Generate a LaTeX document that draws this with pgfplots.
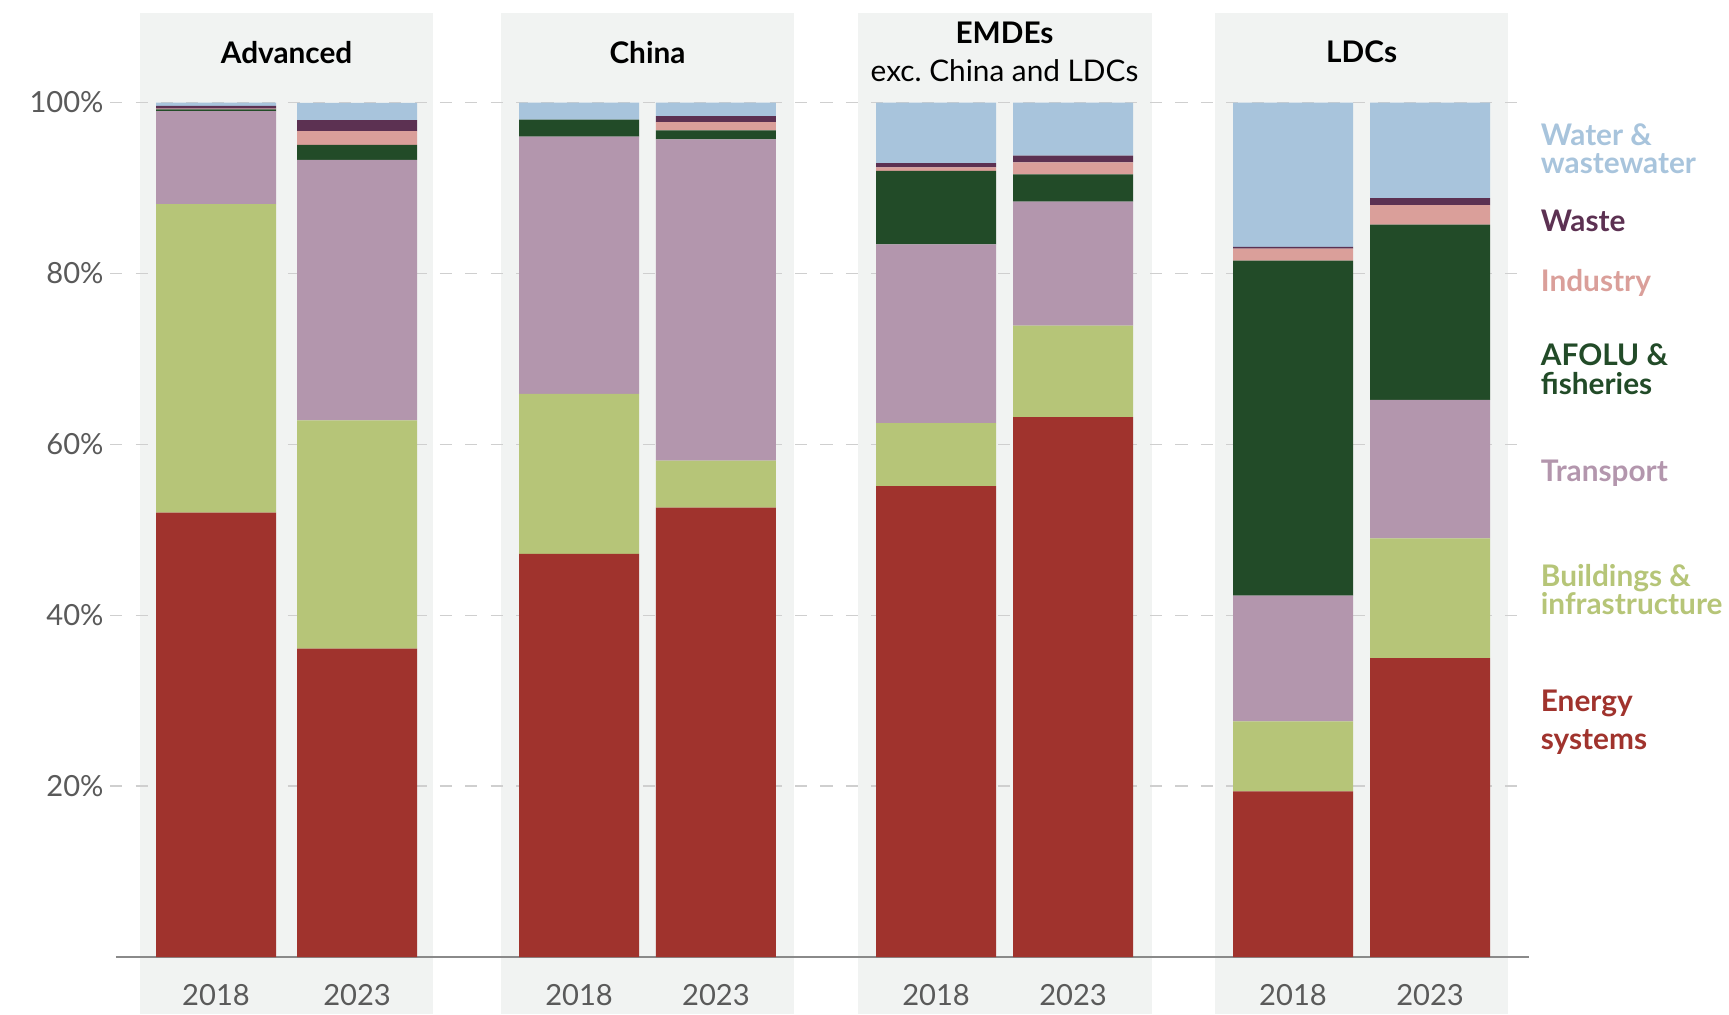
\documentclass[border=0pt]{standalone}
\usepackage{fontspec}
\setmainfont{Lato}
\usepackage{pgfplots}
\pgfplotsset{compat=1.18}
\definecolor{cwater}{HTML}{A8C4DC}
\definecolor{cwaste}{HTML}{5C3152}
\definecolor{cindus}{HTML}{DA9F9A}
\definecolor{cafolu}{HTML}{224B28}
\definecolor{ctrans}{HTML}{B396AD}
\definecolor{cbuild}{HTML}{B6C578}
\definecolor{cenergy}{HTML}{A0332D}
\definecolor{panelc}{HTML}{F1F3F2}
\definecolor{gridc}{HTML}{CFCFCF}
\definecolor{tickc}{HTML}{5A5A5A}
\definecolor{basec}{HTML}{8A8A8A}
\tikzset{
  lab/.style={anchor=west, align=left, font=\fontsize{13.5}{13}\selectfont\bfseries, inner sep=0pt},
  head/.style={font=\fontsize{13.5}{15}\selectfont, inner sep=0pt},
}
\pgfplotsset{
  frame/.style={scale only axis, width=641pt, height=387.5pt,
    xmin=1.05, xmax=13.87, ymin=0, ymax=100, clip=false},
}
\begin{document}
\begin{tikzpicture}
% backdrop: panels and grid
\begin{axis}[frame, hide axis]
\path (axis cs:0,-6.71) rectangle (axis cs:15.68,112);
\fill[panelc] (axis cs:1.266,-6.71) rectangle (axis cs:3.931,110.5);
\fill[panelc] (axis cs:4.539,-6.71) rectangle (axis cs:7.205,110.5);
\fill[panelc] (axis cs:7.777,-6.71) rectangle (axis cs:10.443,110.5);
\fill[panelc] (axis cs:11.015,-6.71) rectangle (axis cs:13.680,110.5);
\pgfplotsinvokeforeach{20,40,60,80,100}{
  \draw[gridc, line width=0.7pt, dash pattern=on 5.5pt off 6pt] (axis cs:1.0,#1) -- (axis cs:13.87,#1);
}
\end{axis}
\begin{axis}[
  frame,
  ybar stacked, bar width=1.088,
  axis line style={draw=none}, major tick length=0,
  xtick={1.959,3.238,5.251,6.493,8.489,9.731,11.726,12.969},
  xticklabels={2018,2023,2018,2023,2018,2023,2018,2023},
  ytick={20,40,60,80,100},
  yticklabels={20\%,40\%,60\%,80\%,100\%},
  tick label style={font=\fontsize{13.2}{15}\selectfont, text=tickc},
  xticklabel style={yshift=-9pt},
  yticklabel style={xshift=-2pt},
]
% Energy systems
\addplot[fill=cenergy, draw=none] coordinates {(1.959,52.0) (3.238,36.1) (5.251,47.2) (6.493,52.6) (8.489,55.1) (9.731,63.2) (11.726,19.4) (12.969,35.0)};
% Buildings & infrastructure
\addplot[fill=cbuild, draw=none] coordinates {(1.959,36.1) (3.238,26.7) (5.251,18.7) (6.493,5.5) (8.489,7.4) (9.731,10.7) (11.726,8.2) (12.969,14.0)};
% Transport
\addplot[fill=ctrans, draw=none] coordinates {(1.959,10.9) (3.238,30.5) (5.251,30.1) (6.493,37.6) (8.489,20.9) (9.731,14.5) (11.726,14.7) (12.969,16.2)};
% AFOLU & fisheries
\addplot[fill=cafolu, draw=none] coordinates {(1.959,0.2) (3.238,1.75) (5.251,2.0) (6.493,1.05) (8.489,8.6) (9.731,3.2) (11.726,39.2) (12.969,20.5)};
% Industry
\addplot[fill=cindus, draw=none] coordinates {(1.959,0.1) (3.238,1.6) (5.251,0.0) (6.493,0.95) (8.489,0.4) (9.731,1.4) (11.726,1.4) (12.969,2.3)};
% Waste
\addplot[fill=cwaste, draw=none] coordinates {(1.959,0.3) (3.238,1.3) (5.251,0.0) (6.493,0.7) (8.489,0.5) (9.731,0.8) (11.726,0.2) (12.969,0.8)};
% Water & wastewater
\addplot[fill=cwater, draw=none] coordinates {(1.959,0.4) (3.238,2.0) (5.251,2.0) (6.493,1.6) (8.489,7.1) (9.731,6.2) (11.726,16.9) (12.969,11.2)};
% baseline
\draw[basec, line width=1pt] (axis cs:1.05,0) -- (axis cs:13.87,0);
% panel headers
\node[head, font=\fontsize{13.5}{15}\selectfont\bfseries] at (axis cs:2.599,105.9) {Advanced};
\node[head, font=\fontsize{13.5}{15}\selectfont\bfseries] at (axis cs:5.872,105.9) {China};
\node[head, font=\fontsize{13.5}{15}\selectfont\bfseries] at (axis cs:9.110,108.1) {EMDEs};
\node[head] at (axis cs:9.110,103.7) {exc.\ China and LDCs};
\node[head, font=\fontsize{13.5}{15}\selectfont\bfseries] at (axis cs:12.348,105.9) {LDCs};
% series labels
\node[lab, text=cwater] at (axis cs:13.97,94.6) {Water \&\\wastewater};
\node[lab, text=cwaste] at (axis cs:13.97,86.1) {Waste};
\node[lab, text=cindus] at (axis cs:13.97,78.9) {Industry};
\node[lab, text=cafolu] at (axis cs:13.97,68.8) {AFOLU \&\\fisheries};
\node[lab, text=ctrans] at (axis cs:13.97,56.6) {Transport};
\node[lab, text=cbuild] at (axis cs:13.97,43.0) {Buildings \&\\infrastructure};
\node[lab, text=cenergy] at (axis cs:13.97,27.5) {Energy\\[4pt]systems};
\end{axis}
\end{tikzpicture}
\end{document}
